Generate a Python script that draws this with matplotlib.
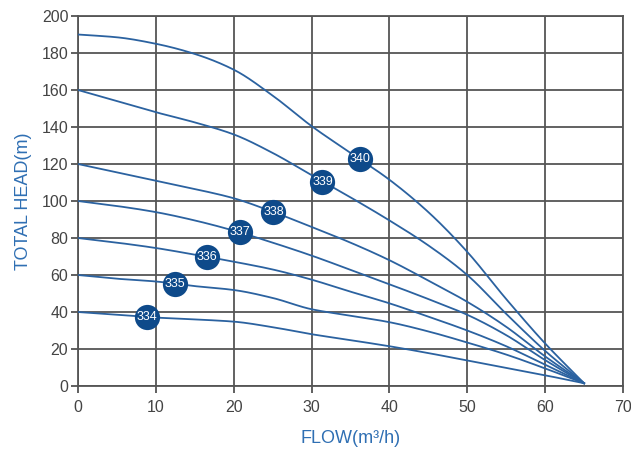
import numpy as np
import matplotlib
matplotlib.use("Agg")
import matplotlib.pyplot as plt

plt.rcParams['font.family'] = ['Liberation Sans', 'DejaVu Sans']

# pump curves: flow (m3/h) -> head (m)
flow = [0, 5, 10, 15, 20, 25, 30, 35, 40, 45, 50, 55, 60, 65]
heads = {
    "340": [190, 188.5, 185, 179.5, 171, 157, 140.5, 126, 111.5, 94, 72.5, 47, 23, 1.5],
    "339": [160, 154, 148, 142.5, 136, 126, 114, 102, 89.5, 76, 60, 39, 19, 1.5],
    "338": [120, 115.5, 111, 106.5, 101.5, 94.2, 86, 77.5, 68, 57, 45.5, 32, 16, 1.5],
    "337": [100, 97.3, 94, 89.5, 84, 77.5, 70.5, 62.8, 55, 47, 38.5, 27.5, 14, 1.5],
    "336": [80, 77.5, 74.6, 71, 67.2, 63, 57.5, 51, 44.7, 37.5, 30, 21.5, 11.5, 1.5],
    "335": [60, 58, 56.5, 54, 51.9, 47.6, 41.5, 38, 34.5, 29.5, 23.5, 17, 9.5, 1.5],
    "334": [40, 38.5, 37, 36, 34.8, 31.8, 28, 24.8, 21.5, 17.8, 13.8, 9.8, 5.8, 1.5],
}
# label badge positions
badge_x = {"334": 8.9, "335": 12.5, "336": 16.6, "337": 20.8, "338": 25.1, "339": 31.4, "340": 36.2}
badge_y = {"334": 37.3, "335": 55, "336": 69.7, "337": 83.2, "338": 94.2, "339": 110.5, "340": 122.7}

x_ticks = [0, 10, 20, 30, 40, 50, 60, 70]
y_ticks = [0, 20, 40, 60, 80, 100, 120, 140, 160, 180, 200]

line_color = '#2b62a0'
badge_color = '#0e4a8a'
label_color = '#2f6fb3'
grid_color = '#555555'


def smooth(xs, ys, n=300):
    # monotone cubic hermite, just for drawing a smooth line through the read points
    xs = np.asarray(xs, float)
    ys = np.asarray(ys, float)
    h = np.diff(xs)
    d = np.diff(ys) / h
    m = np.zeros_like(ys)
    m[0], m[-1] = d[0], d[-1]
    for i in range(1, len(xs) - 1):
        if d[i - 1] * d[i] <= 0:
            m[i] = 0
        else:
            w1 = 2 * h[i] + h[i - 1]
            w2 = h[i] + 2 * h[i - 1]
            m[i] = (w1 + w2) / (w1 / d[i - 1] + w2 / d[i])
    xx = np.linspace(xs[0], xs[-1], n)
    idx = np.clip(np.searchsorted(xs, xx) - 1, 0, len(xs) - 2)
    t = (xx - xs[idx]) / h[idx]
    h00 = 2 * t**3 - 3 * t**2 + 1
    h10 = t**3 - 2 * t**2 + t
    h01 = -2 * t**3 + 3 * t**2
    h11 = t**3 - t**2
    yy = h00 * ys[idx] + h10 * h[idx] * m[idx] + h01 * ys[idx + 1] + h11 * h[idx] * m[idx + 1]
    return xx, yy


fig = plt.figure(figsize=(6.31, 4.5), dpi=100)
ax = fig.add_axes([0.1236, 0.1422, 0.8637, 0.8222])

for name, ys in heads.items():
    xx, yy = smooth(flow, ys)
    ax.plot(xx, yy, color=line_color, lw=1.3, zorder=3)
    ax.scatter([badge_x[name]], [badge_y[name]], s=330, color=badge_color, zorder=4, linewidths=0)
    ax.text(badge_x[name], badge_y[name], name, color='white', fontsize=9,
            ha='center', va='center', zorder=5,
            family=['Liberation Sans Narrow', 'Liberation Sans', 'DejaVu Sans'])

ax.set_xlim(0, 70)
ax.set_ylim(0, 200)
ax.set_xticks(x_ticks)
ax.set_yticks(y_ticks)
ax.grid(True, color=grid_color, lw=1.3)
ax.set_axisbelow(True)
for s in ax.spines.values():
    s.set_color(grid_color)
    s.set_linewidth(1.3)
ax.tick_params(colors='#444444', labelsize=11.5, length=5, width=1.2, direction='out')
ax.tick_params(axis='y', pad=2)
ax.tick_params(axis='x', pad=5)

ax.set_xlabel('FLOW(m³/h)', color=label_color, fontsize=13, labelpad=11)
ax.set_ylabel('TOTAL HEAD(m)', color=label_color, fontsize=13, labelpad=7)

fig.savefig('out.png', dpi=100)
